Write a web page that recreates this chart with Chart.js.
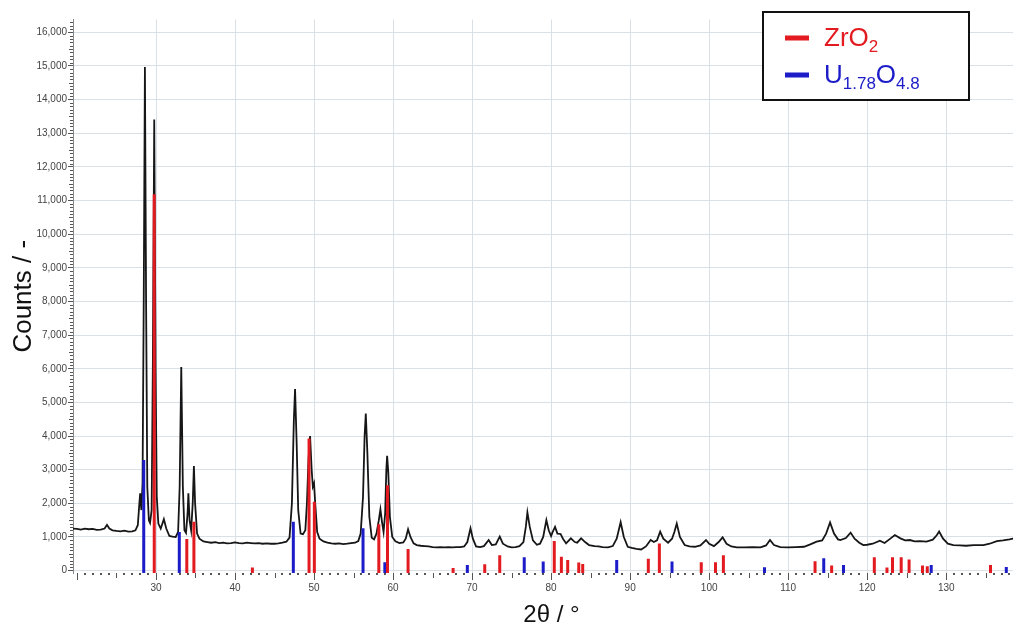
<!DOCTYPE html>
<html>
<head>
<meta charset="utf-8">
<title>XRD pattern</title>
<script src="https://cdn.jsdelivr.net/npm/chart.js@4/dist/chart.umd.min.js"></script>
<style>
  html, body { margin: 0; padding: 0; background: #fff; overflow: hidden; }
  #wrap { width: 1030px; height: 625px; }
</style>
</head>
<body>
<div id="wrap"><canvas id="xrdChart" width="1030" height="625"></canvas></div>
<script>
'use strict';

// Data
let twoTheta = [
  19.5, 20.0, 20.5, 21.0, 21.5, 22.0, 22.5, 23.0, 23.5, 23.8, 24.1, 24.5, 25.0, 25.5, 26.0, 26.5, 27.0, 27.4,
  27.7, 27.9, 28.0, 28.15, 28.3, 28.45, 28.6, 28.75, 28.9, 29.1, 29.25, 29.45, 29.6, 29.78, 29.95, 30.1, 30.3,
  30.6, 31.0, 31.3, 31.7, 32.1, 32.5, 32.8, 33.0, 33.2, 33.4, 33.6, 33.8, 34.0, 34.1, 34.25, 34.45, 34.65, 34.8,
  34.95, 35.2, 35.5, 36.0, 36.5, 37.0, 37.5, 38.0, 38.5, 39.0, 39.5, 40.0, 40.5, 41.0, 41.5, 42.0, 42.5, 43.0,
  43.5, 44.0, 44.5, 45.0, 45.5, 46.0, 46.5, 46.9, 47.2, 47.45, 47.6, 47.8, 48.0, 48.3, 48.6, 48.9, 49.1, 49.3,
  49.5, 49.7, 49.85, 50.0, 50.15, 50.4, 50.7, 51.2, 51.7, 52.2, 52.7, 53.2, 53.7, 54.2, 54.7, 55.2, 55.6, 55.9,
  56.2, 56.4, 56.55, 56.75, 57.0, 57.3, 57.6, 57.9, 58.2, 58.4, 58.6, 58.8, 59.0, 59.15, 59.25, 59.4, 59.6,
  59.9, 60.3, 60.8, 61.3, 61.6, 61.9, 62.2, 62.6, 63.0, 63.5, 64.0, 64.5, 65.0, 65.5, 66.0, 66.5, 67.0, 67.5,
  68.0, 68.5, 69.0, 69.4, 69.8, 70.1, 70.5, 71.0, 71.5, 72.1, 72.5, 73.0, 73.5, 73.9, 74.5, 75.0, 75.5, 76.0,
  76.5, 76.8, 77.0, 77.3, 77.7, 78.2, 78.6, 79.0, 79.4, 79.7, 80.0, 80.2, 80.5, 80.8, 81.2, 81.5, 81.9, 82.5,
  83.0, 83.3, 83.8, 84.3, 84.8, 85.5, 86.0, 86.5, 87.2, 87.8, 88.3, 88.8, 89.2, 89.7, 90.2, 90.8, 91.4, 92.0,
  92.6, 93.0, 93.4, 93.8, 94.2, 94.8, 95.3, 95.6, 95.9, 96.3, 96.9, 97.5, 98.2, 98.9, 99.6, 100.0, 100.6,
  101.2, 101.7, 102.2, 102.8, 103.5, 104.5, 105.5, 106.5, 107.2, 107.7, 108.2, 109.0, 110.0, 111.0, 112.0,
  112.8, 113.6, 114.3, 114.8, 115.3, 115.8, 116.3, 116.6, 117.3, 117.9, 118.4, 119.0, 119.5, 120.0, 120.7,
  121.6, 122.2, 122.8, 123.5, 124.2, 124.8, 125.4, 126.0, 126.7, 127.5, 128.3, 128.8, 129.1, 129.6, 130.2,
  130.9, 131.7, 132.5, 133.5, 134.7, 135.5, 136.4, 137.2, 138.0, 138.6
];
let counts = [
  1250, 1240, 1220, 1250, 1230, 1240, 1210, 1220, 1250, 1360, 1250, 1200, 1180, 1170, 1190, 1160, 1170, 1200,
  1350, 2000, 2300, 1800, 2600, 8000, 14970, 8000, 2500, 1500, 1420, 1800, 6000, 13410, 6000, 2200, 1400,
  1250, 1530, 1250, 1030, 1010, 1000, 1150, 2500, 6050, 2500, 1200, 1120, 1700, 2300, 1500, 1200, 2000, 3110,
  2000, 1100, 950, 870, 850, 830, 850, 820, 830, 810, 820, 840, 820, 810, 830, 820, 810, 820,
  800, 810, 800, 800, 810, 830, 860, 980, 2000, 4500, 5400, 3800, 1800, 1100, 1080, 1200, 2000, 3300,
  4000, 3000, 2500, 2600, 2000, 1150, 950, 870, 830, 810, 800, 810, 790, 800, 820, 830, 880, 1100,
  2200, 4000, 4670, 3500, 1600, 980, 930, 1100, 1500, 1820, 1450, 1150, 1700, 3000, 3410, 2900, 1600,
  1000, 870, 820, 840, 950, 1230, 1000, 810, 760, 740, 730, 720, 700, 690, 700, 690, 700, 690,
  700, 700, 720, 850, 1260, 950, 720, 700, 730, 910, 760, 780, 1010, 800, 720, 690, 700, 730,
  850, 1300, 1730, 1300, 900, 770, 800, 1000, 1500, 1200, 1030, 1150, 1300, 1100, 1090, 950, 810, 960,
  850, 830, 960, 850, 760, 730, 720, 700, 690, 730, 950, 1440, 1000, 710, 680, 650, 630, 720,
  910, 850, 900, 1160, 950, 830, 950, 1150, 1400, 1000, 760, 720, 710, 750, 910, 800, 730,
  850, 990, 800, 720, 690, 690, 700, 690, 750, 910, 760, 700, 690, 700, 710,
  780, 860, 900, 1100, 1430, 1100, 930, 910, 970, 1130, 950, 830, 760, 770, 800,
  890, 820, 930, 1060, 960, 900, 910, 870, 880, 860, 920, 1050, 1160, 950, 800,
  760, 750, 740, 760, 760, 800, 880, 900, 930, 960
];

// Reference phase lines
let phaseNames = ['ZrO_{2}', 'U_{1.78}O_{4.8}'];
let zro2Pos = [29.78, 33.9, 34.8, 42.2, 49.37, 50.04, 58.2, 59.3, 61.9, 67.6, 71.6, 73.5, 80.4, 81.3, 82.1,
  83.5, 84.0, 92.3, 93.7, 99.0, 100.8, 101.8, 113.4, 115.5, 120.9, 122.5, 123.2, 124.3, 125.3, 127.0, 127.6, 135.6];
let zro2Int = [11190, 940, 1450, 90, 3930, 2050, 1380, 2540, 640, 80, 190, 460, 880, 410, 320,
  240, 200, 350, 810, 250, 250, 460, 280, 150, 400, 90, 400, 400, 330, 150, 130, 170];
let uoPos = [28.45, 32.95, 47.38, 56.2, 58.96, 69.4, 76.6, 79.0, 88.3, 95.3, 107.0, 114.5, 117.0, 128.1, 137.6];
let uoInt = [3290, 1150, 1450, 1260, 250, 170, 400, 270, 320, 270, 100, 370, 170, 170, 110];

// Axes
let xTickLabels = [30, 40, 50, 60, 70, 80, 90, 100, 110, 120, 130];
let yTickStep = 1000;
let yTickMax = 16000;
const X_MIN = 19.5;
const X_MAX = 140.6;
const Y_MIN = -70;
const Y_MAX = 16380;

const FONT = '"Liberation Sans", Arial, sans-serif';
const RED = '#e31a1f';
const BLUE = '#1c1cc8';
const GRID = '#d9e0e6';
const TICK = '#555';

function toPoints(xs, ys){
  return xs.map((x, i) => ({ x: x, y: ys[i] }));
}

// each stick = bottom point, top point, then a gap
function toSticks(xs, ys){
  let pts = [];
  xs.forEach((x, i) => {
    pts.push({ x: x, y: Y_MIN }, { x: x, y: ys[i] }, { x: x, y: null });
  });
  return pts;
}

// Vertical grid at the labelled angles
let xGrid = {
  id: 'xGrid',
  beforeDatasetsDraw(chart){
    let ctx = chart.ctx;
    let xs = chart.scales.x;
    let area = chart.chartArea;
    ctx.save();
    ctx.fillStyle = GRID;
    xTickLabels.forEach(v => {
      let px = Math.round(xs.getPixelForValue(v));
      ctx.fillRect(px, area.top, 1, area.bottom - area.top);
    });
    ctx.restore();
  }
};

// Minor and major ticks on both axes
let axisTicks = {
  id: 'axisTicks',
  afterDraw(chart){
    let ctx = chart.ctx;
    let xs = chart.scales.x;
    let ys = chart.scales.y;
    let bottom = chart.chartArea.bottom;
    let left = chart.chartArea.left;
    ctx.save();
    ctx.fillStyle = TICK;
    for (let d = Math.ceil(X_MIN); d <= X_MAX; d++){
      let px = Math.round(xs.getPixelForValue(d));
      if (d % 10 === 0){
        ctx.fillRect(px, bottom, 1, 7);
      } else if (d % 5 === 0){
        ctx.fillRect(px, bottom, 1, 5);
      } else {
        ctx.fillRect(px - 1, bottom, 2, 2);
      }
    }
    for (let v = 0; v <= Y_MAX; v += 100){
      if (v % yTickStep === 0) continue;
      let py = Math.round(ys.getPixelForValue(v));
      let len = v % 500 === 0 ? 4 : 3;
      ctx.fillRect(left - len, py, len, 1);
    }
    ctx.restore();
  }
};

// Legend box with subscripts
function drawRichText(ctx, text, x, y, size, subSize){
  let parts = text.split(/_\{([^}]*)\}/);
  parts.forEach((part, i) => {
    let isSub = i % 2 === 1;
    ctx.font = `${isSub ? subSize : size}px ${FONT}`;
    ctx.fillText(part, x, isSub ? y + 6 : y);
    x += ctx.measureText(part).width;
  });
}

let phaseLegend = {
  id: 'phaseLegend',
  afterDraw(chart){
    let ctx = chart.ctx;
    ctx.save();
    ctx.fillStyle = '#fff';
    ctx.fillRect(763, 12, 206, 88);
    ctx.strokeStyle = '#111';
    ctx.lineWidth = 2;
    ctx.strokeRect(763, 12, 206, 88);
    let sticks = chart.data.datasets.filter(ds => ds.isPhase);
    sticks.forEach((ds, i) => {
      let y = 38 + i * 37;
      ctx.fillStyle = ds.borderColor;
      ctx.fillRect(785, y - 2.5, 24, 5);
      ctx.textBaseline = 'alphabetic';
      drawRichText(ctx, ds.label, 824, y + 8, 26, 17);
    });
    ctx.restore();
  }
};

let chartContext = document.getElementById('xrdChart');

let chartTemplate = {
  type: 'line',
  data: {
    datasets: [
      {
        label: phaseNames[0],
        isPhase: true,
        data: toSticks(zro2Pos, zro2Int),
        borderColor: RED,
        borderWidth: 3,
        borderCapStyle: 'butt',
        pointRadius: 0,
        spanGaps: false,
        order: 0
      },
      {
        label: phaseNames[1],
        isPhase: true,
        data: toSticks(uoPos, uoInt),
        borderColor: BLUE,
        borderWidth: 3,
        borderCapStyle: 'butt',
        pointRadius: 0,
        spanGaps: false,
        order: 0
      },
      {
        label: 'pattern',
        data: toPoints(twoTheta, counts),
        borderColor: '#161616',
        borderWidth: 1.8,
        pointRadius: 0,
        tension: 0,
        order: 1
      }
    ]
  },
  options: {
    responsive: false,
    animation: false,
    devicePixelRatio: 1,
    layout: { padding: { top: 19.5, left: 0, right: 0, bottom: 0 } },
    plugins: {
      legend: { display: false },
      tooltip: { enabled: false }
    },
    scales: {
      x: {
        type: 'linear',
        min: X_MIN,
        max: X_MAX,
        offset: false,
        afterBuildTicks: scale => {
          scale.ticks = xTickLabels.map(v => ({ value: v }));
        },
        afterFit: scale => { scale.height = 52; },
        grid: { color: 'rgba(0,0,0,0)', tickLength: 7 },
        border: { display: false },
        ticks: {
          color: '#444',
          padding: 2,
          maxRotation: 0,
          font: { family: FONT, size: 10 }
        },
        title: {
          display: true,
          text: '2θ / °',
          color: '#111',
          font: { family: FONT, size: 24, lineHeight: 1 },
          padding: { top: 0, bottom: -2 }
        }
      },
      y: {
        min: Y_MIN,
        max: Y_MAX,
        afterBuildTicks: scale => {
          let ticks = [];
          for (let v = 0; v <= yTickMax; v += yTickStep) ticks.push({ value: v });
          scale.ticks = ticks;
        },
        afterFit: scale => { scale.width = 73; },
        grid: { color: GRID, lineWidth: 1, tickLength: 5, tickColor: TICK },
        border: { display: true, color: '#888', width: 1 },
        ticks: {
          color: '#444',
          padding: 1,
          font: { family: FONT, size: 10 },
          callback: v => v.toLocaleString('en-US')
        },
        title: {
          display: true,
          text: 'Counts / -',
          color: '#111',
          font: { family: FONT, size: 26, lineHeight: 1.2 },
          padding: { top: 8, bottom: 0 }
        }
      }
    }
  },
  plugins: [xGrid, axisTicks, phaseLegend]
};

new Chart(chartContext, chartTemplate); // eslint-disable-line
</script>
</body>
</html>
